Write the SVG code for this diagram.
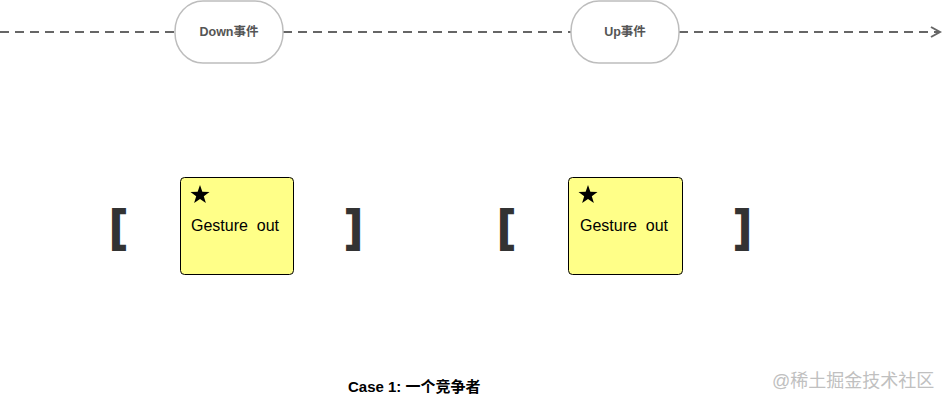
<svg xmlns="http://www.w3.org/2000/svg" width="946" height="403" viewBox="0 0 946 403">
<defs>
<style>
.pill{fill:#fff;stroke:#bdbdbd;stroke-width:1.5}
.plab{font-family:"Liberation Sans","Noto Sans CJK SC",sans-serif;font-size:12.5px;font-weight:bold;fill:#555;text-anchor:middle}
.box{fill:#ffff88;stroke:#000;stroke-width:1}
.glab{font-family:"Liberation Sans",sans-serif;font-size:16px;fill:#000;white-space:pre}
.br{font-family:"Liberation Sans",sans-serif;font-size:45px;font-weight:bold;fill:#333;stroke:#333;stroke-width:2;text-anchor:middle}
.dash{stroke:#666;stroke-width:2;stroke-dasharray:9 6;fill:none}
</style>
<marker id="arr" markerWidth="12" markerHeight="12" refX="10" refY="6" orient="auto" markerUnits="userSpaceOnUse">
<path d="M1,1 L10,6 L1,11" fill="none" stroke="#666" stroke-width="2"/>
</marker>
<path id="star" d="M0,-10 L2.35,-3.24 L9.51,-3.09 L3.8,1.24 L5.88,8.09 L0,4 L-5.88,8.09 L-3.8,1.24 L-9.51,-3.09 L-2.35,-3.24 Z" fill="#000"/>
</defs>
<g id="connectors">
<path class="dash" d="M0,32 H175"/>
<path class="dash" d="M283,32 H571"/>
<path class="dash" d="M679,32 H940" marker-end="url(#arr)"/>
</g>
<g id="down">
<rect class="pill" x="175" y="1" width="108" height="62" rx="28" ry="30"/>
<text class="plab" x="229" y="36">Down事件</text>
</g>
<g id="up">
<rect class="pill" x="571" y="1" width="108" height="62" rx="28" ry="30"/>
<text class="plab" x="625" y="36">Up事件</text>
</g>
<g id="group1">
<text class="br" x="118" y="241">[</text>
<text class="br" x="354" y="241">]</text>
</g>
<g id="gesture1">
<rect class="box" x="180.5" y="177.5" width="113" height="97" rx="4"/>
<use href="#star" x="200" y="195"/>
<text class="glab" x="191" y="231" xml:space="preserve">Gesture  out</text>
</g>
<g id="group2">
<text class="br" x="506" y="241">[</text>
<text class="br" x="743" y="241">]</text>
</g>
<g id="gesture2">
<rect class="box" x="568.5" y="177.5" width="114" height="97" rx="4"/>
<use href="#star" x="588" y="195"/>
<text class="glab" x="580" y="231" xml:space="preserve">Gesture  out</text>
</g>
<text x="348" y="392" font-family="Liberation Sans,Noto Sans CJK SC,sans-serif" font-size="15" font-weight="bold" fill="#000">Case 1: 一个竞争者</text>
<text x="772" y="387" font-family="Liberation Sans,Noto Sans CJK SC,sans-serif" font-size="18" fill="#c0c0c0">@稀土掘金技术社区</text>
</svg>
